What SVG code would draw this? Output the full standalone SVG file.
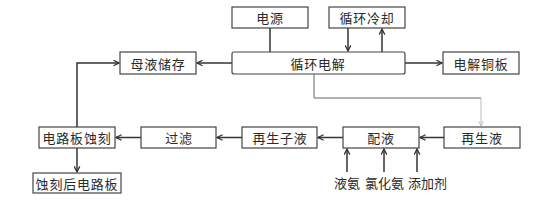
<svg xmlns="http://www.w3.org/2000/svg" width="533" height="203" viewBox="0 0 533 203">
<defs>
<style>
.box{fill:#fff;stroke:#444;stroke-width:1.2}
.t{font-family:"Noto Sans CJK SC","Noto Sans CJK JP",sans-serif;font-size:13px;fill:#2a2a2a;text-anchor:middle;dominant-baseline:central;letter-spacing:0.8px}
.lbl{letter-spacing:0}
.ln{fill:none;stroke:#333;stroke-width:1.5}
.faint{fill:none;stroke:#bbb;stroke-width:1}
</style>
<marker id="ar" viewBox="0 0 10 10" refX="9" refY="5" markerWidth="7" markerHeight="7" markerUnits="userSpaceOnUse" orient="auto">
<path d="M1,1 L9,5 L1,9" fill="none" stroke="#333" stroke-width="1.8"/>
</marker>
<marker id="arf" viewBox="0 0 10 10" refX="9" refY="5" markerWidth="6" markerHeight="6" markerUnits="userSpaceOnUse" orient="auto">
<path d="M1,1 L9,5 L1,9" fill="none" stroke="#bbb" stroke-width="1.5"/>
</marker>
</defs>
<rect width="533" height="203" fill="#fff"/>
<g id="connectors">
<line class="ln" x1="270" y1="28" x2="270" y2="52"/>
<line class="ln" x1="348" y1="28" x2="348" y2="51" marker-end="url(#ar)"/>
<line class="ln" x1="382" y1="52" x2="382" y2="29" marker-end="url(#ar)"/>
<line class="ln" x1="232" y1="63" x2="197" y2="63" marker-end="url(#ar)"/>
<line class="ln" x1="405" y1="63" x2="442" y2="63" marker-end="url(#ar)"/>
<polyline points="314,74 314,98 481,98" fill="none" stroke="#666" stroke-width="1"/>
<line class="faint" x1="481" y1="98" x2="481" y2="126" marker-end="url(#arf)"/>
<polyline class="ln" points="77,127 77,63 119,63" marker-end="url(#ar)"/>
<line class="ln" x1="444" y1="137.5" x2="420" y2="137.5" marker-end="url(#ar)"/>
<line class="ln" x1="343" y1="137.5" x2="318" y2="137.5" marker-end="url(#ar)"/>
<line class="ln" x1="242" y1="137.5" x2="217" y2="137.5" marker-end="url(#ar)"/>
<line class="ln" x1="141" y1="137.5" x2="116" y2="137.5" marker-end="url(#ar)"/>
<line class="ln" x1="77" y1="148" x2="77" y2="172" marker-end="url(#ar)"/>
<line class="ln" x1="347" y1="172" x2="347" y2="149" marker-end="url(#ar)"/>
<line class="ln" x1="384" y1="172" x2="384" y2="149" marker-end="url(#ar)"/>
<line class="ln" x1="417" y1="172" x2="417" y2="149" marker-end="url(#ar)"/>
</g>
<g id="n-dianyuan"><rect class="box" x="232" y="7" width="76" height="21"/><text class="t" x="270" y="17.5">电源</text></g>
<g id="n-lengque"><rect class="box" x="329" y="7" width="76" height="21"/><text class="t" x="367" y="17.5">循环冷却</text></g>
<g id="n-dianjie"><rect class="box" x="232" y="52" width="173" height="22" rx="2"/><text class="t" x="318" y="63">循环电解</text></g>
<g id="n-muye"><rect class="box" x="120" y="52" width="76" height="22"/><text class="t" x="158" y="63">母液储存</text></g>
<g id="n-tongban"><rect class="box" x="443" y="52" width="76" height="22"/><text class="t" x="481" y="63">电解铜板</text></g>
<g id="n-shike"><rect class="box" x="39" y="127" width="76" height="21"/><text class="t" x="77" y="137.5">电路板蚀刻</text></g>
<g id="n-guolv"><rect class="box" x="141" y="127" width="75" height="21"/><text class="t" x="179" y="137.5">过滤</text></g>
<g id="n-zaishengziye"><rect class="box" x="242" y="127" width="75" height="21"/><text class="t" x="280" y="137.5">再生子液</text></g>
<g id="n-peiye"><rect class="box" x="343" y="127" width="76" height="21"/><text class="t" x="381" y="137.5">配液</text></g>
<g id="n-zaishengye"><rect class="box" x="444" y="127" width="76" height="21"/><text class="t" x="482" y="137.5">再生液</text></g>
<g id="n-houban"><rect class="box" x="33" y="173" width="88" height="20"/><text class="t" x="77" y="183">蚀刻后电路板</text></g>
<g id="n-yean"><text class="t lbl" x="347" y="182">液氨</text></g>
<g id="n-lvhuaan"><text class="t lbl" x="384.5" y="182">氯化氨</text></g>
<g id="n-tianjiaji"><text class="t lbl" x="427.5" y="182">添加剂</text></g>
</svg>
